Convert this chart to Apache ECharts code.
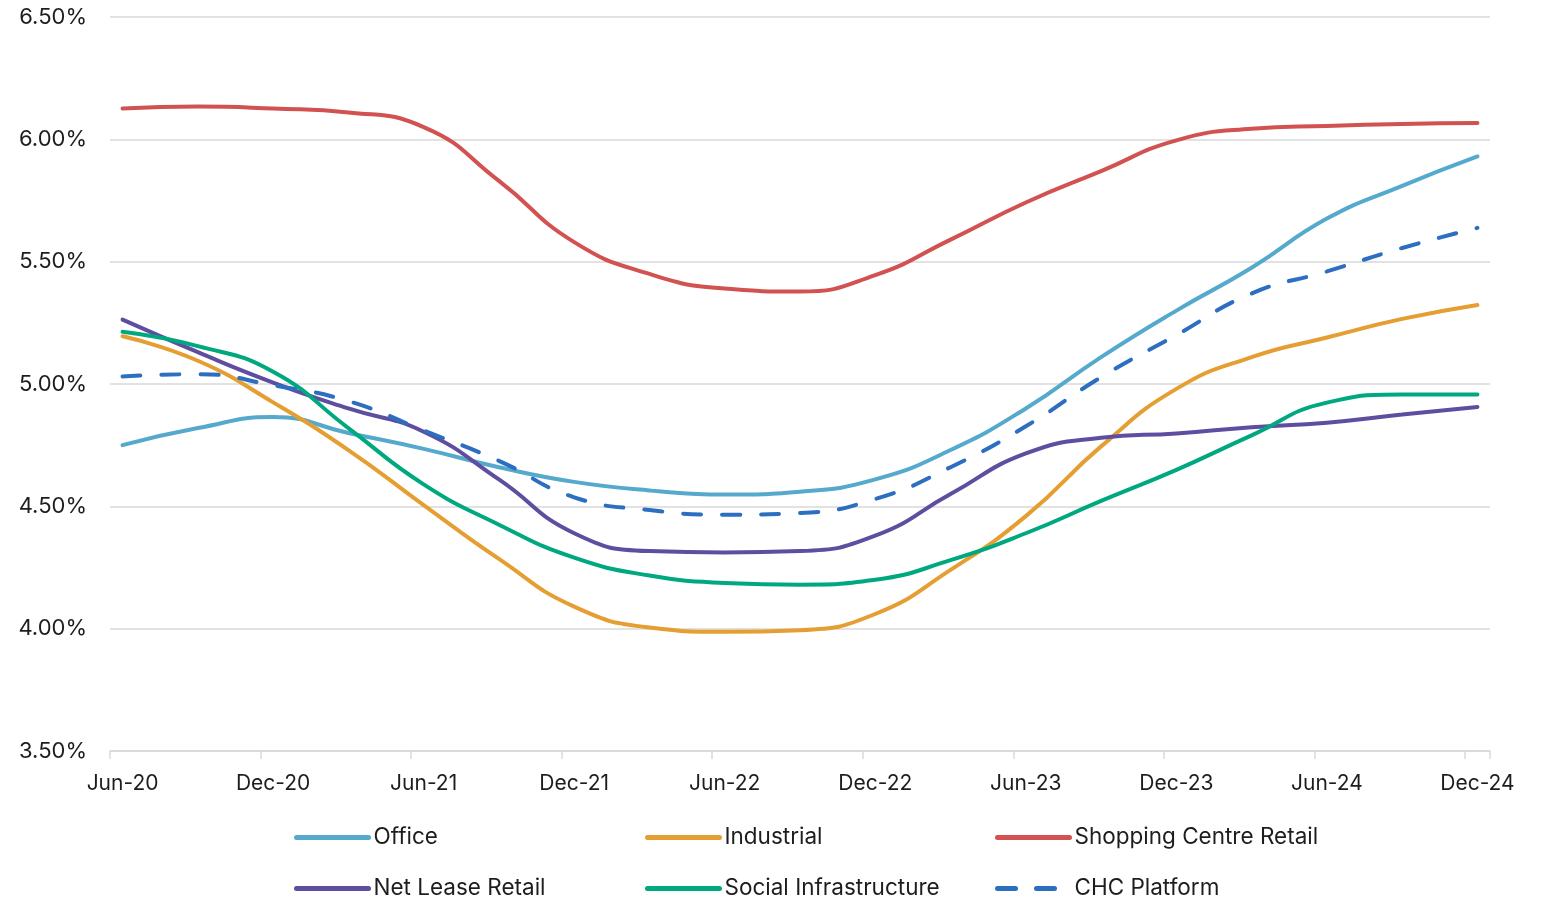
<!DOCTYPE html>
<html>
<head>
<meta charset="utf-8">
<script src="https://cdn.jsdelivr.net/npm/echarts@6/dist/echarts.min.js"></script>
<style>
    html, body { margin: 0; padding: 0; background: #fff; }
    #yieldChart { width: 1550px; height: 899px; }
</style>
</head>
<body>
<div id="yieldChart"></div>
<script>
// 季度数据点 (Jun-20 ~ Dec-24)
var quarters = ['Jun-20', 'Sep-20', 'Dec-20', 'Mar-21', 'Jun-21', 'Sep-21', 'Dec-21', 'Mar-22', 'Jun-22', 'Sep-22',
    'Dec-22', 'Mar-23', 'Jun-23', 'Sep-23', 'Dec-23', 'Mar-24', 'Jun-24', 'Sep-24', 'Dec-24'];

var office = [4.75, 4.82, 4.865, 4.80, 4.735, 4.66, 4.60, 4.565, 4.548, 4.56, 4.61, 4.73, 4.90, 5.11, 5.30, 5.475, 5.676, 5.81, 5.93];
var industrial = [5.195, 5.095, 4.925, 4.73, 4.505, 4.285, 4.09, 4.005, 3.987, 3.994, 4.06, 4.24, 4.46, 4.745, 4.98, 5.11, 5.19, 5.266, 5.323];
var shopping = [6.126, 6.134, 6.126, 6.11, 6.05, 5.83, 5.58, 5.45, 5.39, 5.378, 5.445, 5.59, 5.742, 5.87, 5.996, 6.043, 6.055, 6.063, 6.067];
var netLease = [5.263, 5.13, 5.006, 4.90, 4.805, 4.61, 4.39, 4.317, 4.311, 4.317, 4.38, 4.55, 4.716, 4.78, 4.798, 4.823, 4.842, 4.875, 4.906];
var social = [5.214, 5.155, 5.05, 4.82, 4.59, 4.425, 4.29, 4.217, 4.187, 4.18, 4.20, 4.28, 4.39, 4.522, 4.649, 4.79, 4.924, 4.957, 4.957];
var chc = [5.031, 5.04, 4.995, 4.93, 4.81, 4.686, 4.537, 4.485, 4.466, 4.473, 4.53, 4.66, 4.827, 5.028, 5.20, 5.37, 5.46, 5.556, 5.638];

// y 轴刻度
var yTicks = [3.5, 4.0, 4.5, 5.0, 5.5, 6.0, 6.5];

// x 轴按月份 (日期轴效果), 每 6 个月显示一个标签
var monthNames = ['Jan', 'Feb', 'Mar', 'Apr', 'May', 'Jun', 'Jul', 'Aug', 'Sep', 'Oct', 'Nov', 'Dec'];
var axisMonths = [];
for (var y = 20; y <= 24; y++) {
    for (var m = 0; m < 12; m++) {
        if (y === 20 && m < 5) continue;
        axisMonths.push(monthNames[m] + '-' + y);
    }
}

var seriesList = [
    {name: 'Office', data: office, color: '#55A9CC', dash: 'solid'},
    {name: 'Industrial', data: industrial, color: '#E59E32', dash: 'solid'},
    {name: 'Shopping Centre Retail', data: shopping, color: '#D25252', dash: 'solid'},
    {name: 'Net Lease Retail', data: netLease, color: '#5F4DA0', dash: 'solid'},
    {name: 'Social Infrastructure', data: social, color: '#00A87F', dash: 'solid'},
    {name: 'CHC Platform', data: chc, color: '#2C6EBF', dash: [18, 21]}
];

var fontName = 'Inter, "Liberation Sans", sans-serif';

var series = [];
var legends = [];
var legendLeft = [294, 645, 995];
var legendTop = [826, 877];
seriesList.forEach(function (s, i) {
    series.push({
        name: s.name,
        type: 'line',
        smooth: 0.5,
        symbol: 'none',
        color: s.color,
        lineStyle: {width: 4, color: s.color, type: s.dash, cap: 'round'},
        data: quarters.map(function (q, k) {
            return [q, s.data[k]];
        })
    });
    // 每个图例单独定位, 形成 3 列 2 行
    legends.push({
        data: [s.name],
        left: legendLeft[i % 3],
        top: legendTop[Math.floor(i / 3)],
        padding: 0,
        itemWidth: 72,
        itemHeight: 14,
        itemStyle: {opacity: 0},
        lineStyle: {width: 5, cap: 'round'},
        textStyle: {fontSize: 22.5, color: '#1d1d1d', fontFamily: fontName}
    });
});

var chart = echarts.init(document.getElementById('yieldChart'));
var option = {
    animation: false,
    grid: {left: 110, right: 60, top: 17, bottom: 148},
    legend: legends,
    xAxis: {
        type: 'category',
        data: axisMonths,
        boundaryGap: true,
        axisLine: {lineStyle: {color: '#d9d9d9', width: 1.5}},
        axisTick: {
            show: true, length: 8, lineStyle: {color: '#d9d9d9', width: 1.5},
            interval: function (index) {
                return index % 6 === 0;
            }
        },
        axisLabel: {interval: 5, margin: 22, fontSize: 21, color: '#1d1d1d', fontFamily: fontName},
        splitLine: {show: false}
    },
    yAxis: {
        type: 'value',
        min: yTicks[0],
        max: yTicks[yTicks.length - 1],
        interval: 0.5,
        axisLine: {show: false},
        axisTick: {show: false},
        axisLabel: {
            margin: 23, fontSize: 22, color: '#1d1d1d', fontFamily: fontName,
            formatter: function (v) {
                return v.toFixed(2) + '%';
            }
        },
        splitLine: {lineStyle: {color: '#d9d9d9', width: 1.5}}
    },
    series: series
};
chart.setOption(option);
</script>
</body>
</html>
